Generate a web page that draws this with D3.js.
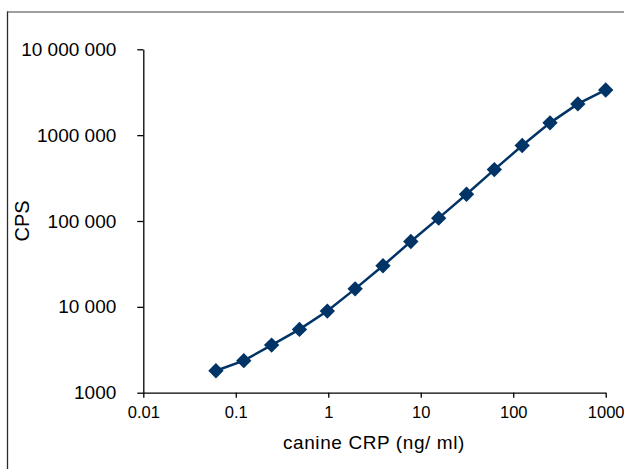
<!DOCTYPE html>
<html>
<head>
<meta charset="utf-8">
<script src="https://cdn.jsdelivr.net/npm/d3@7"></script>
<style>
  body { margin: 0; background: #fff; }
  text { font-family: "Liberation Sans", Arial, sans-serif; fill: #000; }
</style>
</head>
<body>
<div id="chart"></div>
<script>
// canine CRP standard curve
var conc = [0.061, 0.122, 0.244, 0.488, 0.977, 1.953, 3.906, 7.8125, 15.625, 31.25, 62.5, 125, 250, 500, 1000];
var cps = [1800, 2360, 3590, 5460, 8930, 16200, 30100, 57700, 108000, 205000, 397000, 757000, 1390000, 2310000, 3360000];

var xTicks = [0.01, 0.1, 1, 10, 100, 1000];
var xTickLabels = ["0.01", "0.1", "1", "10", "100", "1000"];
var yTicks = [1000, 10000, 100000, 1000000, 10000000];
var yTickLabels = ["1000", "10 000", "100 000", "1000 000", "10 000 000"];

var width = 624, height = 469;
var plot = {left: 143.3, right: 605.7, top: 49.3, bottom: 392.7};

var svg = d3.select("#chart").append("svg")
    .attr("width", width).attr("height", height);

// outer frame (top edge grey, left edge dark; right and bottom are off the page)
svg.append("line")
    .attr("x1", 7).attr("x2", width).attr("y1", 12).attr("y2", 12)
    .attr("stroke", "#7f7f7f").attr("stroke-width", 1.5);
svg.append("line")
    .attr("x1", 7.5).attr("x2", 7.5).attr("y1", 11.5).attr("y2", height)
    .attr("stroke", "#2b2b2b").attr("stroke-width", 1.3);

var x = d3.scaleLog().domain([0.01, 1000]).range([plot.left, plot.right]);
var y = d3.scaleLog().domain([1000, 10000000]).range([plot.bottom, plot.top]);

var xAxis = d3.axisBottom(x)
    .tickValues(xTicks)
    .tickFormat(function(d, i) { return xTickLabels[i]; })
    .tickSizeOuter(0).tickSizeInner(5).tickPadding(9);

var yAxis = d3.axisLeft(y)
    .tickValues(yTicks)
    .tickFormat(function(d, i) { return yTickLabels[i]; })
    .tickSizeOuter(0).tickSizeInner(6).tickPadding(21);

var gx = svg.append("g")
    .attr("transform", "translate(0," + plot.bottom + ")")
    .call(xAxis);
var gy = svg.append("g")
    .attr("transform", "translate(" + plot.left + ",0)")
    .call(yAxis);

[gx, gy].forEach(function(g) {
    g.select(".domain").attr("stroke", "#000").attr("stroke-width", 1.3);
    g.selectAll(".tick line").attr("stroke", "#000").attr("stroke-width", 1.3);
    g.selectAll(".tick text")
        .attr("font-family", "Liberation Sans, Arial, sans-serif")
        .attr("fill", "#000");
});
gx.selectAll(".tick text").attr("font-size", 16.5);
gy.selectAll(".tick text").attr("font-size", 19);

// axis titles
svg.append("text")
    .attr("x", 374).attr("y", 449)
    .attr("text-anchor", "middle")
    .attr("font-size", 19)
    .attr("letter-spacing", 0.6)
    .text("canine CRP (ng/ ml)");

svg.append("text")
    .attr("transform", "translate(29,221) rotate(-90)")
    .attr("text-anchor", "middle")
    .attr("font-size", 20)
    .text("CPS");

var data = conc.map(function(c, i) { return {x: c, y: cps[i]}; });

var line = d3.line()
    .x(function(d) { return x(d.x); })
    .y(function(d) { return y(d.y); });

svg.append("path")
    .datum(data)
    .attr("d", line)
    .attr("fill", "none")
    .attr("stroke", "#003366")
    .attr("stroke-width", 2.5);

svg.selectAll(".pt")
    .data(data)
    .enter()
    .append("path")
    .attr("class", "pt")
    .attr("d", d3.symbol().type(d3.symbolDiamond2).size(150))
    .attr("transform", function(d) { return "translate(" + x(d.x) + "," + y(d.y) + ")"; })
    .attr("fill", "#003366");
</script>
</body>
</html>
